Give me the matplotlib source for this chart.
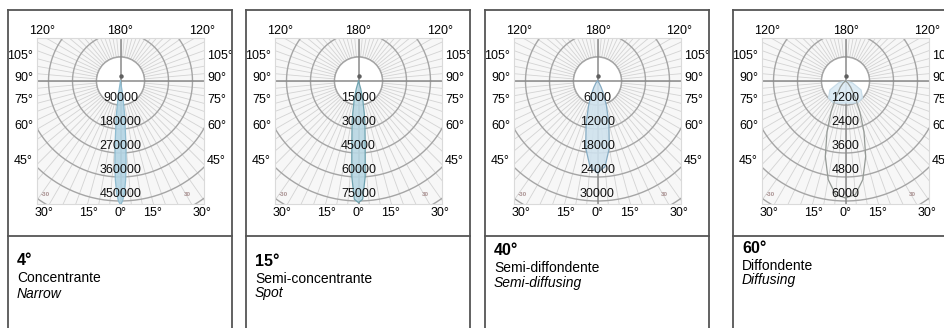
import numpy as np
import matplotlib
matplotlib.use('Agg')
import matplotlib.pyplot as plt
from matplotlib.lines import Line2D
from matplotlib.patches import Circle

plt.rcParams['font.family'] = ['Liberation Sans', 'DejaVu Sans']

# dati delle schede
beam_labels = ['4°', '15°', '40°', '60°']
names_it = ['Concentrante', 'Semi-concentrante', 'Semi-diffondente', 'Diffondente']
names_en = ['Narrow', 'Spot', 'Semi-diffusing', 'Diffusing']
ring_steps = [90000, 15000, 6000, 1200]

# curve fotometriche (angolo dal basso in gradi, intensita' cd)
ang_4 = [0, 1, 2, 3, 4, 5, 7, 9, 12]
cd_4 = [465000, 450000, 420000, 370000, 300000, 230000, 130000, 50000, 0]
ang_15 = [0, 2, 4, 6, 8, 10, 13, 16, 20]
cd_15 = [76000, 74000, 60000, 40000, 29000, 21000, 12000, 5000, 0]
ang_40 = [0, 5, 10, 15, 20, 25, 30, 40, 50]
cd_40 = [23000, 21500, 17000, 11000, 6500, 3500, 1800, 600, 0]
ang_60 = [0, 5, 10, 15, 20, 25, 30, 40, 50, 60]
cd_60 = [5850, 5700, 5000, 3900, 2700, 1700, 1000, 400, 150, 0]
ang_60b = [0, 15, 30, 45, 60, 75, 90]
cd_60b = [1100, 1150, 1250, 1200, 900, 350, 0]

curves = [
    [(ang_4, cd_4, '#b3d4e4', '#8fbcd0')],
    [(ang_15, cd_15, '#b8d7e3', '#6fa3b0')],
    [(ang_40, cd_40, '#cfe2ee', '#86abc2')],
    [(ang_60b, cd_60b, '#dbeaf4', '#c9dde9'), (ang_60, cd_60, 'none', '#959a96')],
]

side_angles = [105, 90, 75, 60, 45]
bottom_ticks = ['30°', '15°', '0°', '15°', '30°']
bottom_pos = [0.04, 0.31, 0.5, 0.69, 0.99]

# layout (pixel)
W, H = 944, 328
card_left = [8, 246, 485, 733]
card_w = 224
top = 10
divider = 236
text_base = [[265, 282, 298], [266, 283, 297], [255, 272, 287], [253, 270, 284]]
box_off, box_top, box_w, box_h = 29, 38, 167, 166
ring_px = 24.0
origin_px = 43


def fx(px):
    return px / W


def fy(py):
    return 1 - py / H


fig = plt.figure(figsize=(W / 100, H / 100), dpi=100)
border = '#555555'

for i in range(4):
    cl = card_left[i]
    # bordo scheda
    for xs, ys in [([cl, cl], [top, H + 5]), ([cl + card_w, cl + card_w], [top, H + 5]),
                   ([cl, cl + card_w], [top, top]), ([cl, cl + card_w], [divider, divider])]:
        fig.add_artist(Line2D([fx(x) for x in xs], [fy(y) for y in ys], color=border, lw=1.3))

    step = ring_steps[i]
    ax = fig.add_axes([fx(cl + box_off), fy(box_top + box_h), box_w / W, box_h / H])
    half = box_w / 2 / ring_px
    ax.set_xlim(-half * step, half * step)
    ax.set_ylim(-(box_h - origin_px) / ring_px * step, origin_px / ring_px * step)
    ax.set_facecolor('#f7f7f7')
    ax.set_xticks([])
    ax.set_yticks([])
    for s in ax.spines.values():
        s.set_color('#dadada')
        s.set_linewidth(0.8)

    # griglia polare
    t = np.linspace(0, 2 * np.pi, 361)
    for k in range(1, 8):
        ax.plot(k * step * np.cos(t), k * step * np.sin(t), color='#a5a5a5', lw=1.0, zorder=1.2)
    for a in np.radians(np.arange(0, 360, 5)):
        ax.plot([step * np.sin(a), 8 * step * np.sin(a)], [-step * np.cos(a), -8 * step * np.cos(a)],
                color='#d3d3d3', lw=0.6, zorder=1)
    ax.add_patch(Circle((0, 0), step, facecolor='white', edgecolor='#a5a5a5', lw=1.0, zorder=1.5))
    ax.axhline(0, color='#8a8a8a', lw=1.1, zorder=2)
    ax.axvline(0, color='#8a8a8a', lw=1.1, zorder=2)

    # curve
    for ang, cd, fc, ec in curves[i]:
        a = np.radians(np.r_[-np.array(ang[::-1]), ang[1:]])
        r = np.r_[cd[::-1], cd[1:]]
        x = r * np.sin(a)
        y = -r * np.cos(a)
        if fc != 'none':
            ax.fill(x, y, color=fc, alpha=0.9, lw=0, zorder=3)
        ax.plot(x, y, color=ec, lw=0.9, zorder=3.5)
    ax.plot([0], [0.2 * step], 'o', color='#606060', ms=2.2, zorder=4)

    # etichette anelli
    for k in range(1, 6):
        ax.text(0, -(k - 0.3) * step, f'{k * step}', ha='center', va='center',
                fontsize=9, color='#111111', zorder=5)
    ax.text(0.05, 0.055, '-30', transform=ax.transAxes, fontsize=4.5, color='#a89090',
            weight='bold', ha='center', va='center')
    ax.text(0.9, 0.055, '30', transform=ax.transAxes, fontsize=4.5, color='#a89090',
            weight='bold', ha='center', va='center')

    # etichette angoli
    off = 3 / ring_px * step
    for ang in side_angles:
        yy = -half * step / np.tan(np.radians(ang)) + off
        ax.text(-half * step - 4 / ring_px * step, yy, f'{ang}°', ha='right', va='center',
                fontsize=9, clip_on=False)
        ax.text(half * step + 3 / ring_px * step, yy, f'{ang}°', ha='left', va='center',
                fontsize=9, clip_on=False)
    for xf, lab in zip([0.03, 0.5, 0.99], ['120°', '180°', '120°']):
        ax.text(xf, 1.008, lab, transform=ax.transAxes, ha='center', va='bottom', fontsize=9)
    for xf, lab in zip(bottom_pos, bottom_ticks):
        ax.text(xf, -0.02, lab, transform=ax.transAxes, ha='center', va='top', fontsize=9)

    # testo scheda
    b = text_base[i]
    fig.text(fx(cl + 9), fy(b[0]), beam_labels[i], fontsize=11.5, weight='bold', va='baseline')
    fig.text(fx(cl + 9), fy(b[1]), names_it[i], fontsize=10, va='baseline')
    fig.text(fx(cl + 9), fy(b[2]), names_en[i], fontsize=10, style='italic', va='baseline')

fig.savefig('out.png', dpi=100, facecolor='white')
